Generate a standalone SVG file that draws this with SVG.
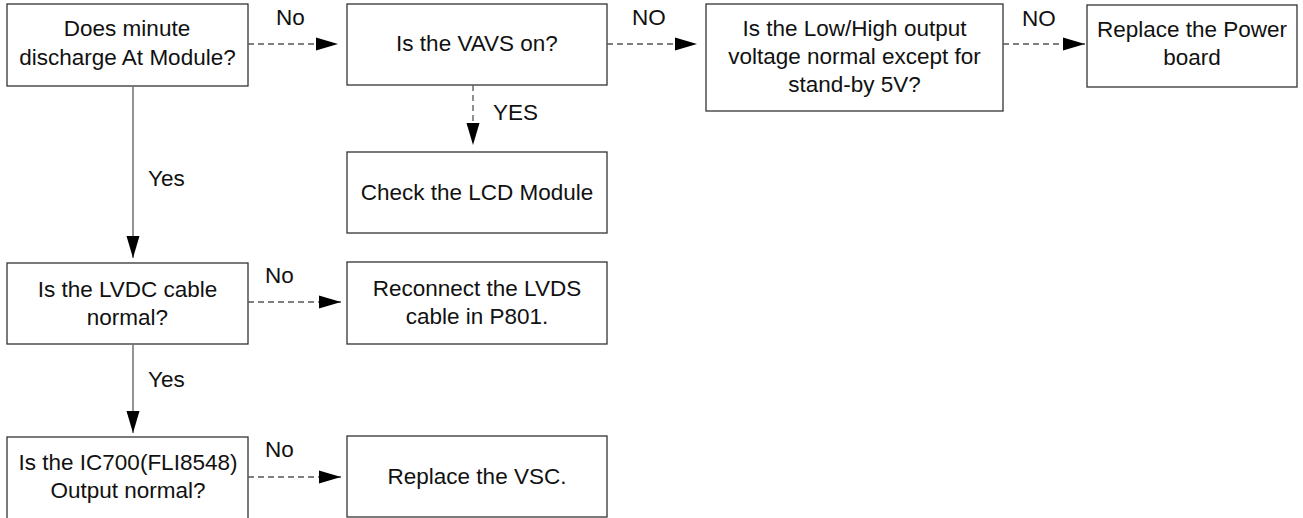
<svg xmlns="http://www.w3.org/2000/svg" width="1303" height="518" viewBox="0 0 1303 518">
  <style>
    .box { fill: #ffffff; stroke: #333333; stroke-width: 1.3; }
    .t { font-family: "Liberation Sans", Arial, sans-serif; font-size: 22.5px; fill: #111111; text-anchor: middle; }
    .lbl { font-family: "Liberation Sans", Arial, sans-serif; font-size: 22.5px; fill: #111111; }
    .solid { stroke: #707070; stroke-width: 1.5; fill: none; }
    .dash { stroke: #555555; stroke-width: 1.3; fill: none; stroke-dasharray: 6 4; }
  </style>
  <defs>
    <marker id="ah" markerUnits="userSpaceOnUse" markerWidth="23" markerHeight="14" refX="22" refY="7" orient="auto">
      <path d="M0,0.5 L22,7 L0,13.5 z" fill="#000000"/>
    </marker>
  </defs>
  <rect width="1303" height="518" fill="#ffffff"/>

  <g id="n1">
    <rect class="box" x="7" y="4" width="241" height="82"/>
    <text class="t" x="127" y="36">Does minute</text>
    <text class="t" x="127.5" y="65">discharge At Module?</text>
  </g>
  <g id="n2">
    <rect class="box" x="347" y="4" width="260" height="81"/>
    <text class="t" x="477" y="51">Is the VAVS on?</text>
  </g>
  <g id="n3">
    <rect class="box" x="706" y="4" width="297" height="107"/>
    <text class="t" x="854.5" y="36">Is the Low/High output</text>
    <text class="t" x="854.5" y="64">voltage normal except for</text>
    <text class="t" x="854.5" y="92">stand-by 5V?</text>
  </g>
  <g id="n4">
    <rect class="box" x="1087" y="5" width="210" height="82"/>
    <text class="t" x="1192" y="37">Replace the Power</text>
    <text class="t" x="1192" y="65">board</text>
  </g>
  <g id="n5">
    <rect class="box" x="347" y="152" width="260" height="81"/>
    <text class="t" x="477" y="200">Check the LCD Module</text>
  </g>
  <g id="n6">
    <rect class="box" x="7" y="263" width="241" height="81"/>
    <text class="t" x="127.5" y="297">Is the LVDC cable</text>
    <text class="t" x="127.5" y="325">normal?</text>
  </g>
  <g id="n7">
    <rect class="box" x="347" y="262" width="260" height="82"/>
    <text class="t" x="477" y="296">Reconnect the LVDS</text>
    <text class="t" x="477" y="324">cable in P801.</text>
  </g>
  <g id="n8">
    <rect class="box" x="7" y="437" width="241" height="100"/>
    <text class="t" x="128" y="470">Is the IC700(FLI8548)</text>
    <text class="t" x="128" y="498">Output normal?</text>
  </g>
  <g id="n9">
    <rect class="box" x="347" y="436" width="260" height="81"/>
    <text class="t" x="477" y="484">Replace the VSC.</text>
  </g>

  <g id="connectors">
    <line class="dash" x1="248" y1="44" x2="338" y2="44" marker-end="url(#ah)"/>
    <text class="lbl" x="276" y="25">No</text>
    <line class="dash" x1="607" y1="44" x2="697" y2="44" marker-end="url(#ah)"/>
    <text class="lbl" x="632" y="25">NO</text>
    <line class="dash" x1="1003" y1="44" x2="1085" y2="44" marker-end="url(#ah)"/>
    <text class="lbl" x="1022" y="26">NO</text>
    <line class="dash" x1="473" y1="85" x2="473" y2="145" marker-end="url(#ah)"/>
    <text class="lbl" x="493" y="120">YES</text>
    <line class="solid" x1="133" y1="86" x2="133" y2="258" marker-end="url(#ah)"/>
    <text class="lbl" x="148" y="186">Yes</text>
    <line class="dash" x1="248" y1="302" x2="341" y2="302" marker-end="url(#ah)"/>
    <text class="lbl" x="265" y="283">No</text>
    <line class="solid" x1="133" y1="344" x2="133" y2="433" marker-end="url(#ah)"/>
    <text class="lbl" x="148" y="387">Yes</text>
    <line class="dash" x1="248" y1="477" x2="341" y2="477" marker-end="url(#ah)"/>
    <text class="lbl" x="265" y="457">No</text>
  </g>
</svg>
